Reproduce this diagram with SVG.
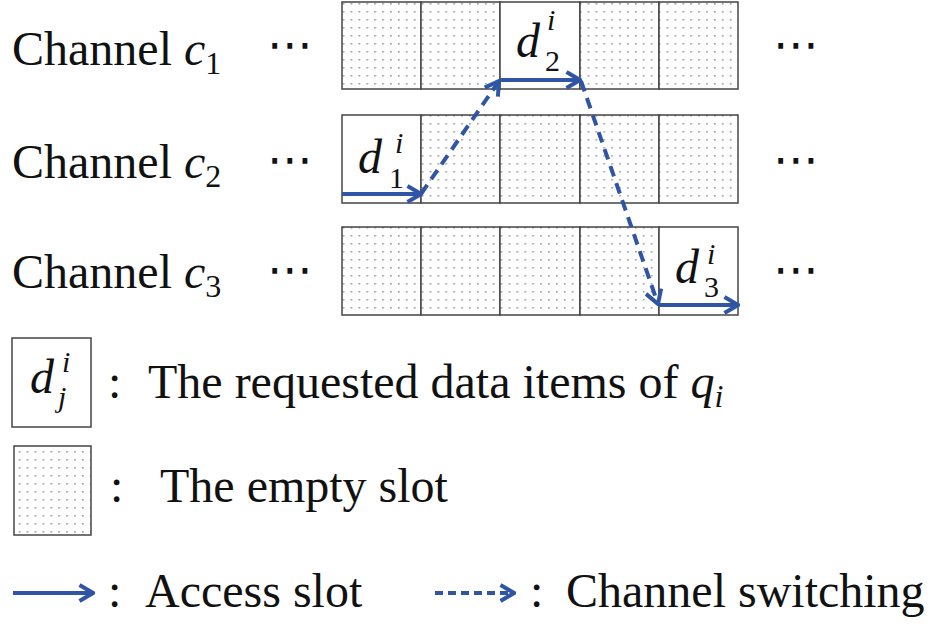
<svg xmlns="http://www.w3.org/2000/svg" width="937" height="626" viewBox="0 0 937 626" font-family="'Liberation Serif', 'Times New Roman', serif">
<defs>
<pattern id="dots" width="7.9" height="8" patternUnits="userSpaceOnUse">
<rect width="7.9" height="8" fill="#fff"/>
<rect x="3" y="3" width="1.6" height="1.6" fill="#9a9a9a"/>
</pattern>
<marker id="chev" viewBox="0 0 20 20" refX="18" refY="10" markerWidth="20" markerHeight="20" markerUnits="userSpaceOnUse" orient="auto">
<path d="M4.5,2 L18,10 L4.5,18" fill="none" stroke="#2F55A4" stroke-width="4"/>
</marker>
</defs>
<style>
text{font-family:'Liberation Serif','Times New Roman',serif;fill:#111}
.lab{font-size:48px}
.it{font-style:italic}
.sub{font-size:32px}
.ss{font-size:30px}
.dots{font-family:'DejaVu Sans',sans-serif;font-size:46px}
.empty{fill:url(#dots);stroke:#444;stroke-width:1.5}
.data{fill:#fff;stroke:#444;stroke-width:1.5}
.acc{stroke:#2F55A4;stroke-width:4;fill:none;marker-end:url(#chev)}
.sw{stroke:#2F55A4;stroke-width:4;fill:none;stroke-dasharray:11 7;marker-end:url(#chev)}
.swl{stroke:#2F55A4;stroke-width:4;fill:none;stroke-dasharray:8 5;marker-end:url(#chev)}
</style>
<rect width="937" height="626" fill="#fff"/>

<g id="labels">
<text class="lab" x="12" y="65">Channel <tspan class="it">c</tspan><tspan class="sub" dy="9">1</tspan></text>
<text class="lab" x="12" y="178">Channel <tspan class="it">c</tspan><tspan class="sub" dy="9">2</tspan></text>
<text class="lab" x="12" y="288">Channel <tspan class="it">c</tspan><tspan class="sub" dy="9">3</tspan></text>
<text class="dots" x="267" y="60">⋯</text>
<text class="dots" x="267" y="175">⋯</text>
<text class="dots" x="267" y="285">⋯</text>
<text class="dots" x="773" y="60">⋯</text>
<text class="dots" x="773" y="175">⋯</text>
<text class="dots" x="773" y="285">⋯</text>
</g>

<g id="channel-c1">
<rect class="empty" x="342" y="2" width="79" height="87"/>
<rect class="empty" x="421" y="2" width="79" height="87"/>
<g id="slot-d2"><rect class="data" x="500" y="2" width="80" height="87"/>
<text class="lab it" x="516" y="57">d</text><text class="ss it" x="547" y="30">i</text><text class="ss" x="545" y="71">2</text></g>
<rect class="empty" x="580" y="2" width="79" height="87"/>
<rect class="empty" x="659" y="2" width="79" height="87"/>
</g>

<g id="channel-c2">
<g id="slot-d1"><rect class="data" x="342" y="115" width="79" height="88"/>
<text class="lab it" x="358" y="173">d</text><text class="ss it" x="395" y="153">i</text><text class="ss" x="389" y="188">1</text></g>
<rect class="empty" x="421" y="115" width="79" height="88"/>
<rect class="empty" x="500" y="115" width="80" height="88"/>
<rect class="empty" x="580" y="115" width="79" height="88"/>
<rect class="empty" x="659" y="115" width="79" height="88"/>
</g>

<g id="channel-c3">
<rect class="empty" x="342" y="227" width="79" height="88"/>
<rect class="empty" x="421" y="227" width="79" height="88"/>
<rect class="empty" x="500" y="227" width="80" height="88"/>
<rect class="empty" x="580" y="227" width="79" height="88"/>
<g id="slot-d3"><rect class="data" x="659" y="227" width="79" height="88"/>
<text class="lab it" x="675" y="283">d</text><text class="ss it" x="707" y="264">i</text><text class="ss" x="704" y="297">3</text></g>
</g>

<g id="connectors">
<line class="acc" x1="342" y1="194" x2="421" y2="194"/>
<line class="sw" x1="421" y1="194" x2="499" y2="81"/>
<line class="acc" x1="500" y1="80" x2="580" y2="80"/>
<line class="sw" x1="581" y1="81" x2="658" y2="304"/>
<line class="acc" x1="659" y1="305" x2="738" y2="305"/>
</g>

<g id="legend-data">
<rect class="data" x="12" y="338" width="79" height="89"/>
<text class="lab it" x="30" y="393">d</text><text class="ss it" x="62" y="372">i</text><text class="ss it" x="58" y="407">j</text>
<text class="lab" x="108" y="398">:</text>
<text class="lab" x="148" y="398">The requested data items of <tspan class="it">q</tspan><tspan class="sub it" dy="9">i</tspan></text>
</g>

<g id="legend-empty">
<rect class="empty" x="14" y="446" width="77" height="89"/>
<text class="lab" x="110" y="502">:</text>
<text class="lab" x="160" y="502">The empty slot</text>
</g>

<g id="legend-arrows">
<line class="acc" x1="13" y1="593" x2="93" y2="593"/>
<text class="lab" x="108" y="607">:</text>
<text class="lab" x="145" y="607">Access slot</text>
<line class="swl" x1="435" y1="593" x2="514" y2="593"/>
<text class="lab" x="530" y="607">:</text>
<text class="lab" x="566" y="607">Channel switching</text>
</g>
</svg>
